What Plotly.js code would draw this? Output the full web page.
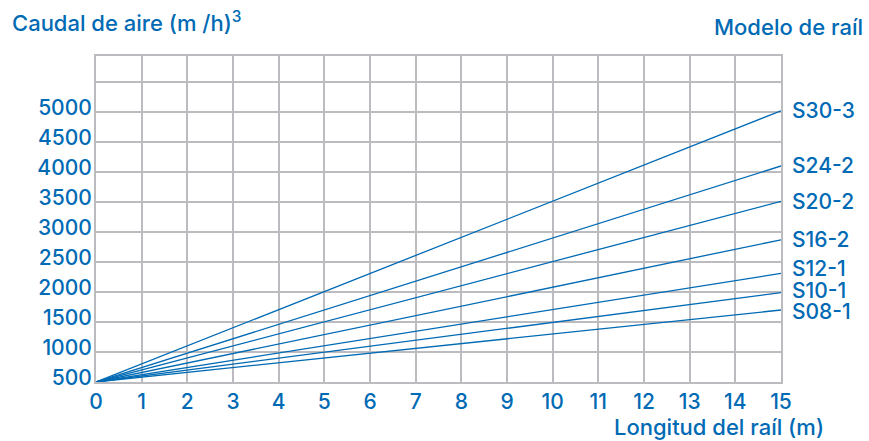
<!DOCTYPE html>
<html>
<head>
<meta charset="utf-8">
<script src="https://cdn.plot.ly/plotly-3.0.1.min.js"></script>
<style>html,body{margin:0;padding:0;background:#fff;}#chart{width:869px;height:441px;}</style>
</head>
<body>
<div id="chart"></div>
<script>
// Data
const models = ['S30-3', 'S24-2', 'S20-2', 'S16-2', 'S12-1', 'S10-1', 'S08-1'];
const railLength = [0, 15];
const flowStart = [500, 500, 500, 500, 500, 500, 500];
const flowEnd = [5020, 4100, 3510, 2870, 2310, 1990, 1700];
const yTickVals = [500, 1000, 1500, 2000, 2500, 3000, 3500, 4000, 4500, 5000];
const yExtraGrid = [5500];
const xTickVals = [0, 1, 2, 3, 4, 5, 6, 7, 8, 9, 10, 11, 12, 13, 14, 15];

const BLUE = '#006ab4';
const GRID = '#bcbcc0';
const FONT = 'Inter, "Liberation Sans", Arial, sans-serif';
const FS = 21;
const labelYShift = [0, 0, 0, 0, 5, 2, -1];

const traces = models.map((m, i) => ({
  type: 'scatter',
  mode: 'lines',
  name: m,
  x: railLength,
  y: [flowStart[i], flowEnd[i]],
  line: {color: BLUE, width: 1.3},
  hoverinfo: 'skip'
}));

const tf = {family: FONT, size: FS, color: BLUE, weight: 500};
const titleFont = {family: FONT, size: 22, color: BLUE, weight: 500};

const annotations = models.map((m, i) => ({
  x: 15, y: flowEnd[i], xref: 'x', yref: 'y',
  text: m, showarrow: false, xanchor: 'left', yanchor: 'middle',
  xshift: 9, yshift: labelYShift[i],
  font: tf
}));

annotations.push({
  xref: 'paper', yref: 'paper', x: -0.1255, y: 1.107,
  xanchor: 'left', yanchor: 'middle', showarrow: false,
  text: 'Caudal de aire (m /h)<sup>3</sup>',
  font: titleFont
});
annotations.push({
  xref: 'paper', yref: 'paper', x: 1.1226, y: 1.089,
  xanchor: 'right', yanchor: 'middle', showarrow: false,
  text: 'Modelo de raíl',
  font: titleFont
});
annotations.push({
  xref: 'paper', yref: 'paper', x: 1.0657, y: -0.138,
  xanchor: 'right', yanchor: 'middle', showarrow: false,
  text: 'Longitud del raíl (m)',
  font: titleFont
});

const layout = {
  width: 869, height: 441,
  margin: {l: 96, r: 88, t: 56, b: 59},
  paper_bgcolor: '#ffffff', plot_bgcolor: '#ffffff',
  showlegend: false,
  xaxis: {
    range: [0, 15], tickmode: 'array', tickvals: xTickVals,
    showgrid: true, gridcolor: GRID, gridwidth: 2,
    zeroline: false, showline: true, linecolor: GRID, linewidth: 2, mirror: true,
    ticks: '', tickfont: tf,
    fixedrange: true
  },
  yaxis: {
    range: [500, 5933], tickmode: 'array', tickvals: yTickVals,
    showgrid: true, gridcolor: GRID, gridwidth: 2,
    minor: {tickmode: 'array', tickvals: yExtraGrid, showgrid: true, gridcolor: GRID, gridwidth: 2, ticks: ''},
    zeroline: false, showline: true, linecolor: GRID, linewidth: 2, mirror: true,
    ticks: '', tickfont: tf,
    ticklabelshift: -4, ticklabelstandoff: -2,
    fixedrange: true
  },
  annotations: annotations
};

Plotly.newPlot('chart', traces, layout, {displayModeBar: false, staticPlot: true});
</script>
</body>
</html>
